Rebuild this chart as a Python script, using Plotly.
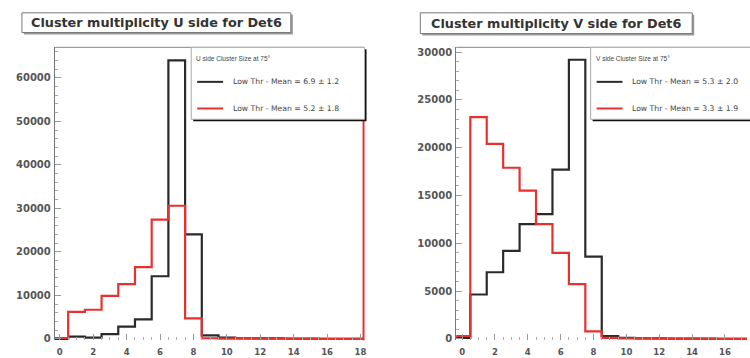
import plotly.graph_objects as go

W, H = 750, 358

# ---- data (bin centres 0..18, width 1) ----
bin_centres = list(range(19))
u_low_black = [0, 500, 300, 1100, 2800, 4500, 14400, 64000, 24000, 800, 300, 150, 100, 100, 50, 50, 30, 30, 20]
u_low_red   = [200, 6200, 6700, 9900, 12600, 16500, 27400, 30600, 4700, 150, 80, 60, 50, 40, 30, 20, 20, 10, 10]
v_low_black = [100, 4640, 6970, 9200, 12000, 13050, 17700, 29200, 8600, 300, 100, 60, 40, 30, 20, 20, 10, 10, 10]
v_low_red   = [300, 23200, 20400, 17900, 15500, 12000, 9000, 5730, 780, 100, 60, 40, 30, 20, 20, 10, 10, 10, 10]

titles = ["Cluster multiplicity U side for Det6", "Cluster multiplicity V side for Det6"]
leg_headers = ["U side Cluster Size at 75°", "V side Cluster Size at 75°"]
leg_black = ["Low Thr - Mean = 6.9 ± 1.2", "Low Thr - Mean = 5.3 ± 2.0"]
leg_red = ["Low Thr - Mean = 5.2 ± 1.8", "Low Thr - Mean = 3.3 ± 1.9"]

BLACK = "#2a2a2a"
RED = "#e8312f"
FONT = "Liberation Sans, Arial, sans-serif"
DJ = "DejaVu Sans, sans-serif"


def px(x):
    return x / W


def py(y):
    return (H - y) / H


def step(vals):
    edges = [c - 0.5 for c in bin_centres] + [bin_centres[-1] + 0.5]
    return edges, list(vals) + [vals[-1]]


fig = go.Figure()

for i, (b, r) in enumerate([(u_low_black, u_low_red), (v_low_black, v_low_red)]):
    xa = "x" if i == 0 else "x2"
    ya = "y" if i == 0 else "y2"
    ex, ey = step(b)
    fig.add_trace(go.Scatter(x=ex, y=ey, mode="lines", line=dict(color=BLACK, width=2.2, shape="hv"),
                             xaxis=xa, yaxis=ya, showlegend=False, hoverinfo="skip"))
    ex, ey = step(r)
    fig.add_trace(go.Scatter(x=ex, y=ey, mode="lines", line=dict(color=RED, width=2.2, shape="hv"),
                             xaxis=xa, yaxis=ya, showlegend=False, hoverinfo="skip"))

xtickfont = dict(family=DJ, size=8.5, color="#555", weight="bold")
ytickfont = dict(family=DJ, size=10, color="#555", weight="bold")
common_x = dict(showgrid=False, zeroline=False, ticks="inside", ticklen=6, tickcolor="#999",
                tickvals=list(range(0, 19, 2)), tickfont=xtickfont, ticklabelstandoff=5,
                minor=dict(dtick=0.5, ticks="inside", ticklen=3, tickcolor="#aaa"),
                showline=False)
common_y = dict(showgrid=False, zeroline=False, ticks="inside", ticklen=6, tickcolor="#999",
                tickfont=ytickfont, tickformat="d", ticklabelstandoff=1,
                showline=True, linecolor="#777", linewidth=1)

fig.update_layout(
    width=W, height=H, margin=dict(l=0, r=0, t=0, b=0),
    paper_bgcolor="white", plot_bgcolor="white",
    xaxis=dict(common_x, domain=[px(55), px(365)], range=[-0.3, 18.18], anchor="y"),
    yaxis=dict(common_y, domain=[py(344), py(47)], range=[-300, 67000], dtick=10000,
               minor=dict(dtick=2000, ticks="inside", ticklen=3, tickcolor="#aaa"), anchor="x"),
    xaxis2=dict(common_x, domain=[px(458), 1.0], range=[-0.36, 17.34], anchor="y2"),
    yaxis2=dict(common_y, domain=[py(344), py(47)], range=[-140, 30500], dtick=5000,
                minor=dict(dtick=1000, ticks="inside", ticklen=3, tickcolor="#aaa"), anchor="x2"),
)

shapes = []
annotations = []
# frames: top line (both), right line (left plot, red)
for xr in ["x domain", "x2 domain"]:
    shapes.append(dict(type="line", xref=xr, yref="paper", x0=0, x1=1.2 if xr == "x2 domain" else 1,
                       y0=py(47), y1=py(47), line=dict(color="#888", width=1)))
shapes.append(dict(type="line", xref="x domain", yref="paper", x0=1, x1=1, y0=py(344), y1=py(47),
                   line=dict(color=RED, width=2)))

# title boxes
for (x0, x1, y0, y1), t in zip([(22, 292, 12, 32), (422, 695, 12, 33)], titles):
    shapes.append(dict(type="rect", xref="paper", yref="paper", x0=px(x0 + 2), x1=px(x1 + 2),
                       y0=py(y1 + 2), y1=py(y0 + 2), fillcolor="#999", line=dict(width=0)))
    shapes.append(dict(type="rect", xref="paper", yref="paper", x0=px(x0), x1=px(x1),
                       y0=py(y1), y1=py(y0), fillcolor="white", line=dict(color="#777", width=1)))
    annotations.append(dict(xref="paper", yref="paper", x=px((x0 + x1) / 2), y=py((y0 + y1) / 2),
                            text=t, showarrow=False, xanchor="center", yanchor="middle",
                            font=dict(family=DJ, size=12.8, color="#333", weight="bold")))

# legends
for (x0, x1), hdr, tb, tr in zip([(192, 366), (593, 800)], leg_headers, leg_black, leg_red):
    shapes.append(dict(type="rect", xref="paper", yref="paper", x0=px(x0 + 2), x1=px(x1 + 2),
                       y0=py(122), y1=py(49), fillcolor="#111", line=dict(width=0)))
    shapes.append(dict(type="rect", xref="paper", yref="paper", x0=px(x0), x1=px(x1),
                       y0=py(120), y1=py(47), fillcolor="white", line=dict(color="#aaa", width=1)))
    annotations.append(dict(xref="paper", yref="paper", x=px(x0 + 3), y=py(58), text=hdr,
                            showarrow=False, xanchor="left", yanchor="middle",
                            font=dict(family=FONT, size=6.5, color="#444")))
    for yy, col, txt in [(82, BLACK, tb), (109, RED, tr)]:
        shapes.append(dict(type="line", xref="paper", yref="paper", x0=px(x0 + 6), x1=px(x0 + 32),
                           y0=py(yy), y1=py(yy), line=dict(color=col, width=2)))
        annotations.append(dict(xref="paper", yref="paper", x=px(x0 + 40), y=py(yy), text=txt,
                                showarrow=False, xanchor="left", yanchor="middle",
                                font=dict(family=DJ, size=7.7, color="#444")))

fig.update_layout(shapes=shapes, annotations=annotations)
fig.write_html("out.html")
